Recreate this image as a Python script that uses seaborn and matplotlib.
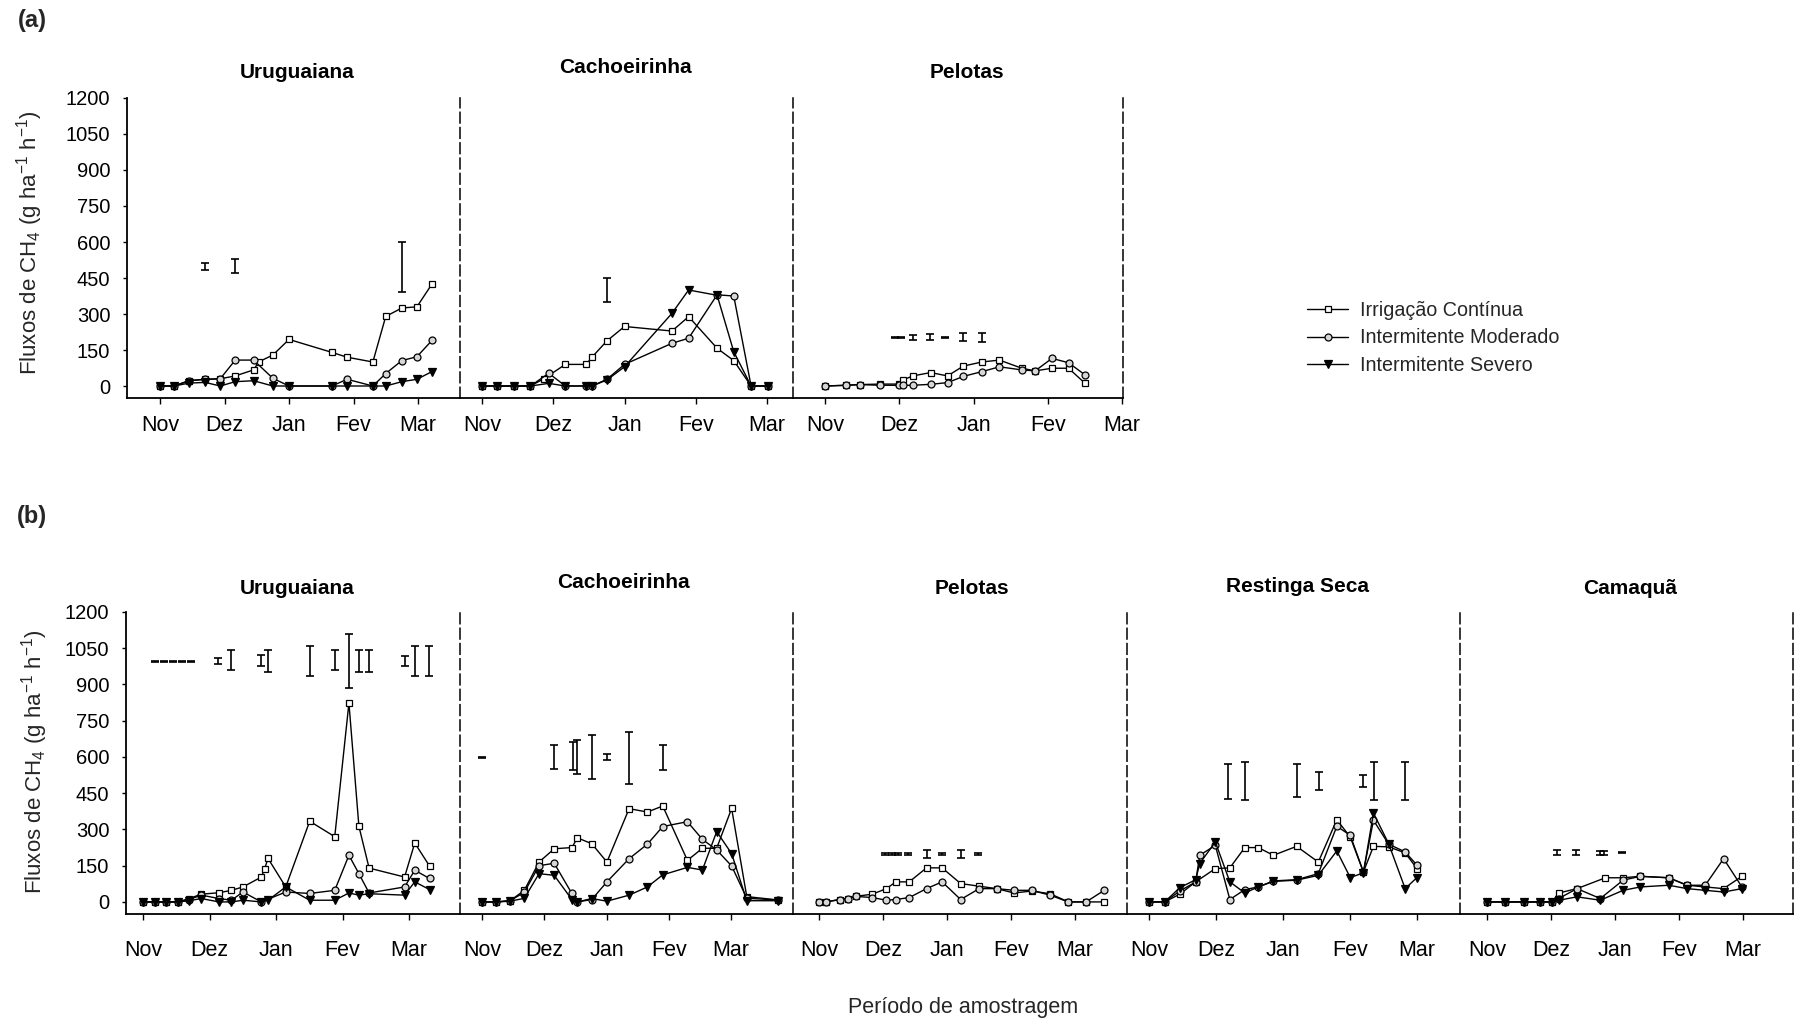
import numpy as np
import matplotlib
matplotlib.use("Agg")
import matplotlib.pyplot as plt
import seaborn as sns
from matplotlib.lines import Line2D

sns.set_theme(style="white")
plt.rcParams["font.family"] = ["Liberation Sans", "DejaVu Sans"]
plt.rcParams["mathtext.fontset"] = "custom"
plt.rcParams["mathtext.rm"] = "Liberation Sans"
plt.rcParams["mathtext.it"] = "Liberation Sans:italic"
plt.rcParams["mathtext.bf"] = "Liberation Sans:bold"

# ---------------------------------------------------------------- data
MONTHS = ["Nov", "Dez", "Jan", "Fev", "Mar"]
MONTH_DAYS = [0, 30, 60, 90, 120]          # days after 1 Nov
Y_TICKS = [0, 150, 300, 450, 600, 750, 900, 1050, 1200]
TREATMENTS = ["Irrigação Contínua", "Intermitente Moderado", "Intermitente Severo"]
nan = np.nan

# (a) Uruguaiana
a_uru_days = [0, 6.5, 13.5, 21, 28, 35, 43.5, 46, 52.5, 60, 80, 87, 99, 105, 112.5, 119.5, 126.5]
a_uru_cont = [0, 0, 22, 28, 30, 42, 67, 101, 129, 194, 140, 120, 100, 290, 325, 330, 425]
a_uru_mod = [0, 0, 22, 28, 30, 108, 108, nan, 32, 0, 0, 28, 0, 52, 106, 122, 190]
a_uru_sev = [0, 0, 12, 15, 0, 18, 22, nan, 0, 0, 0, 0, 0, 0, 18, 28, 60]
a_uru_lsd_x = [21, 35, 112.5]
a_uru_lsd_y = [497, 500, 497]
a_uru_lsd_h = [14, 28, 105]

# (a) Cachoeirinha
a_cac_days = [0, 6.3, 13.6, 20.4, 26, 28.1, 35.1, 43.9, 46.3, 52.6, 60, 80, 87, 99, 106, 113.3, 120.3]
a_cac_cont = [0, 0, 0, 0, 30, nan, 90, 90, 120, 188, 248, 229, 289, 157, 106, 0, 0]
a_cac_mod = [0, 0, 0, 0, nan, 53, 0, 0, 0, 28, 90, 178, 199, 380, 375, 0, 0]
a_cac_sev = [0, 0, 0, 0, nan, 11, 0, 0, 0, 25, 80, 303, 400, 378, 143, 0, 0]
a_cac_lsd_x = [52.6]
a_cac_lsd_y = [400]
a_cac_lsd_h = [49]

# (a) Pelotas
a_pel_days = [0, 8.5, 14.2, 22.2, 29.7, 31.4, 35.5, 42.7, 49.5, 55.9, 63.4, 70.5, 79.5, 84.9, 91.7, 98.4, 105.1]
a_pel_cont = [0, 3, 6, 8, 8, 25, 42, 56, 42, 83, 100, 108, 74, 63, 74, 74, 11]
a_pel_mod = [0, 3, 6, 3, 3, 3, 3, 7, 14, 40, 60, 80, 67, 63, 115, 97, 46]
a_pel_lsd_x = [28.3, 30.8, 35.5, 42.5, 48.5, 55.9, 63.4]
a_pel_lsd_y = [203, 203, 203, 203, 203, 203, 203]
a_pel_lsd_h = [3, 3, 10, 12, 3, 17, 19]

# (b) Uruguaiana
b_uru_days = [0, 5.3, 10.5, 15.8, 20.8, 26.3, 34.3, 39.9, 45.1, 53.4, 54.9, 56.4, 64.4, 75.2, 86.5, 92.9, 97.4, 102, 118, 122.6, 129.3]
b_uru_cont = [0, 0, 0, 0, 14, 32, 38, 48, 62, 103, 138, 180, 62, 334, 270, 823, 313, 140, 103, 244, 148]
b_uru_mod = [0, 0, 0, 0, 10, 28, 14, 7, 41, 0, nan, nan, 41, 35, 48, 193, 117, 37, 62, 131, 97]
b_uru_sev = [0, 0, 0, 0, 5, 14, 0, 0, 7, 0, nan, 7, 62, 7, 7, 37, 28, 34, 28, 83, 51]
b_uru_lsd_x = [5.5, 9.5, 13.5, 17.5, 21.5, 33.8, 39.9, 53.4, 56.4, 75.2, 86.5, 92.9, 97.4, 102, 118, 122.6, 129]
b_uru_lsd_y = [997, 997, 997, 997, 997, 997, 1000, 998, 997, 996, 1001, 996, 997, 997, 997, 996, 996]
b_uru_lsd_h = [2, 2, 2, 2, 2, 14, 41, 23, 46, 62, 43, 112, 47, 47, 21, 62, 62]

# (b) Cachoeirinha
b_cac_days = [0, 6.9, 13.6, 20.4, 27.5, 34.8, 43.3, 46, 52.9, 60.2, 70.9, 79.7, 87.1, 99, 106.2, 113.1, 120.3, 127.6, 142.8]
b_cac_cont = [0, 0, 5, 48, 165, 220, 225, 265, 241, 165, 386, 372, 397, 172, 222, 222, 387, 22, 8]
b_cac_mod = [0, 0, 5, 40, 150, 160, 35, 0, 10, 83, 179, 239, 312, 332, 259, 215, 149, 15, 8]
b_cac_sev = [0, 0, 3, 15, 117, 110, 10, 0, 14, 3, 28, 62, 112, 143, 132, 291, 200, 5, 5]
b_cac_lsd_x = [0, 34.8, 43.8, 45.7, 52.9, 60.2, 70.9, 87.1]
b_cac_lsd_y = [597, 600, 604, 600, 600, 600, 596, 597]
b_cac_lsd_h = [2, 48, 59, 69, 90, 14, 108, 52]

# (b) Pelotas
b_pel_days = [0, 3.4, 9.7, 13.6, 17.2, 25, 31.6, 36, 42.3, 50.4, 57.7, 66.4, 75.1, 83.3, 91.4, 99.7, 108.3, 116.9, 125.2, 133.7]
b_pel_cont = [0, 0, 10, 14, 23, 32, 55, 83, 83, 141, 141, 76, 65, 55, 37, 45, 34, 0, 0, 0]
b_pel_mod = [0, 0, 10, 14, 23, 18, 7, 10, 18, 55, 83, 10, 55, 55, 48, 48, 28, 0, 0, 48]
b_pel_lsd_x = [30.8, 34, 37.1, 41.8, 50.4, 57.7, 66.4, 74.6]
b_pel_lsd_y = [197, 197, 197, 197, 197, 197, 197, 197]
b_pel_lsd_h = [4, 4, 4, 4, 17, 4, 17, 4]

# (b) Restinga Seca
b_res_days = [0, 7, 13.8, 20.9, 22.7, 29.7, 36.2, 42.9, 48.9, 55.7, 66.1, 75.8, 84.1, 90.1, 96, 100.5, 107.3, 114.7, 120]
b_res_cont = [0, 0, 32, 83, nan, 138, 141, 225, 225, 193, 230, 165, 340, 269, 124, 230, 228, 203, 138]
b_res_mod = [0, 0, 45, 83, 193, 234, 10, 51, 62, 87, 92, 117, 313, 276, 124, 338, 239, 207, 152]
b_res_sev = [0, 0, 59, 92, 159, 248, 83, 37, 62, 85, 90, 110, 211, 101, 120, 368, 241, 55, 101]
b_res_lsd_x = [35.5, 42.9, 66.1, 76.3, 96, 100.8, 114.7]
b_res_lsd_y = [500, 500, 503, 500, 500, 500, 500]
b_res_lsd_h = [72, 79, 69, 38, 24, 79, 79]

# (b) Camaquã
b_cam_days = [0, 8.6, 17.2, 25, 30.5, 33.6, 42.2, 53.1, 55.5, 63.8, 71.9, 85.2, 93.8, 102.3, 110.9, 119.5]
b_cam_cont = [0, 0, 0, 0, 0, 37, 55, nan, 100, 100, 106, 100, 69, 62, 55, 106]
b_cam_mod = [0, 0, 0, 0, 0, 14, 55, 14, nan, 90, 106, 100, 69, 69, 179, 62]
b_cam_sev = [0, 0, 0, 0, 0, 7, 21, 7, nan, 48, 62, 69, 55, 48, 41, 55]
b_cam_lsd_x = [32.8, 41.9, 52.8, 54.7, 63.3]
b_cam_lsd_y = [203, 203, 203, 203, 203]
b_cam_lsd_h = [10, 10, 7, 7, 2]

# ---------------------------------------------------------------- layout
W, H = 1802, 1023
ROW_Y = {"a": (98, 398), "b": (612, 914)}   # top / bottom of plotting area (px)
TICK_PAD = {"a": 8, "b": 15}

# name, row, left px, right px, Nov tick px, Mar tick px, title centre (px),
# days, [cont, mod, sev], lsd (x, y, half)
PANELS = [
    ("Uruguaiana", "a", 127, 460, 160, 418, (297, 73), a_uru_days,
     [a_uru_cont, a_uru_mod, a_uru_sev], (a_uru_lsd_x, a_uru_lsd_y, a_uru_lsd_h)),
    ("Cachoeirinha", "a", 460, 793, 482, 767, (625, 68), a_cac_days,
     [a_cac_cont, a_cac_mod, a_cac_sev], (a_cac_lsd_x, a_cac_lsd_y, a_cac_lsd_h)),
    ("Pelotas", "a", 793, 1123, 825, 1122, (967, 73), a_pel_days,
     [a_pel_cont, a_pel_mod, None], (a_pel_lsd_x, a_pel_lsd_y, a_pel_lsd_h)),
    ("Uruguaiana", "b", 126, 460, 143, 409, (297, 588), b_uru_days,
     [b_uru_cont, b_uru_mod, b_uru_sev], (b_uru_lsd_x, b_uru_lsd_y, b_uru_lsd_h)),
    ("Cachoeirinha", "b", 460, 793, 482, 731, (623, 583), b_cac_days,
     [b_cac_cont, b_cac_mod, b_cac_sev], (b_cac_lsd_x, b_cac_lsd_y, b_cac_lsd_h)),
    ("Pelotas", "b", 793, 1127, 819, 1075, (972, 588), b_pel_days,
     [b_pel_cont, b_pel_mod, None], (b_pel_lsd_x, b_pel_lsd_y, b_pel_lsd_h)),
    ("Restinga Seca", "b", 1127, 1460, 1149, 1417, (1297, 587), b_res_days,
     [b_res_cont, b_res_mod, b_res_sev], (b_res_lsd_x, b_res_lsd_y, b_res_lsd_h)),
    ("Camaquã", "b", 1460, 1793, 1487, 1743, (1630, 588), b_cam_days,
     [b_cam_cont, b_cam_mod, b_cam_sev], (b_cam_lsd_x, b_cam_lsd_y, b_cam_lsd_h)),
]

STYLES = [
    dict(marker="s", markerfacecolor="white", markersize=5),
    dict(marker="o", markerfacecolor="#d6d6d6", markersize=5),
    dict(marker="v", markerfacecolor="black", markersize=5.5),
]

fig = plt.figure(figsize=(W / 100, H / 100), dpi=100)

for name, row, left, right, nov_px, mar_px, tpos, days, series, lsd in PANELS:
    top, bottom = ROW_Y[row]
    ax = fig.add_axes([left / W, 1 - bottom / H, (right - left) / W, (bottom - top) / H])
    ppd = (mar_px - nov_px) / 120.0
    ax.set_xlim((left - nov_px) / ppd, (right - nov_px) / ppd)
    ax.set_ylim(-50, 1200)

    days_arr = np.asarray(days, dtype=float)
    for vals, style in zip(series, STYLES):
        if vals is None:
            continue
        v = np.asarray(vals, dtype=float)
        keep = ~np.isnan(v)
        sns.lineplot(x=days_arr[keep], y=v[keep], ax=ax, color="black", lw=1.0,
                     markeredgecolor="black", markeredgewidth=0.9,
                     estimator=None, sort=False, legend=False, **style)

    lx, ly, lh = lsd
    ax.errorbar(lx, ly, yerr=lh, fmt="none", ecolor="black", elinewidth=1.2,
                capsize=2.8, capthick=1.2)

    ax.set_xticks(MONTH_DAYS)
    ax.set_xticklabels(MONTHS)
    ax.tick_params(axis="x", bottom=True, direction="out", length=4, width=1,
                   pad=TICK_PAD[row], labelsize=15.5, colors="black")
    first = left < 200
    if first:
        ax.set_yticks(Y_TICKS)
        ax.set_yticklabels([str(t) for t in Y_TICKS])
        ax.tick_params(axis="y", left=True, direction="out", length=3, width=1,
                       pad=9, labelsize=14.5, colors="black")
    else:
        ax.set_yticks([])
    ax.set_xlabel("")
    ax.set_ylabel("")
    ax.grid(False)
    ax.set_facecolor("none")

    ax.spines["top"].set_visible(False)
    ax.spines["left"].set_visible(first)
    ax.spines["left"].set_color("black")
    ax.spines["left"].set_linewidth(1.3)
    ax.spines["bottom"].set_color("black")
    ax.spines["bottom"].set_linewidth(1.3)
    ax.spines["right"].set_color("black")
    ax.spines["right"].set_linewidth(1.1)
    ax.spines["right"].set_linestyle((0, (7, 3)))

    fig.text(tpos[0] / W, 1 - tpos[1] / H, name, ha="center", va="center",
             fontsize=15, fontweight="bold", color="black")

# axis titles and panel tags
ylab = "Fluxos de CH$_4$ (g ha$^{-1}$ h$^{-1}$)"
fig.text(30 / W, 1 - 243 / H, ylab, rotation=90, ha="center", va="center", fontsize=16)
fig.text(35 / W, 1 - 762 / H, ylab, rotation=90, ha="center", va="center", fontsize=16)
fig.text(963 / W, 1 - 1008 / H, "Período de amostragem", ha="center", va="center", fontsize=15.5)
fig.text(32 / W, 1 - 21 / H, "(a)", ha="center", va="center", fontsize=17, fontweight="bold")
fig.text(32 / W, 1 - 517 / H, "(b)", ha="center", va="center", fontsize=17, fontweight="bold")

# legend
handles = [Line2D([], [], color="black", lw=1.0, markeredgecolor="black",
                  markeredgewidth=0.9, **st) for st in STYLES]
fig.legend(handles, TREATMENTS, loc="center left",
           bbox_to_anchor=(1307 / W, 1 - 338 / H), frameon=False, fontsize=14.2,
           handlelength=2.1, handletextpad=0.6, labelspacing=0.45,
           borderpad=0, borderaxespad=0)

fig.savefig("out.png", dpi=100, facecolor="white")
